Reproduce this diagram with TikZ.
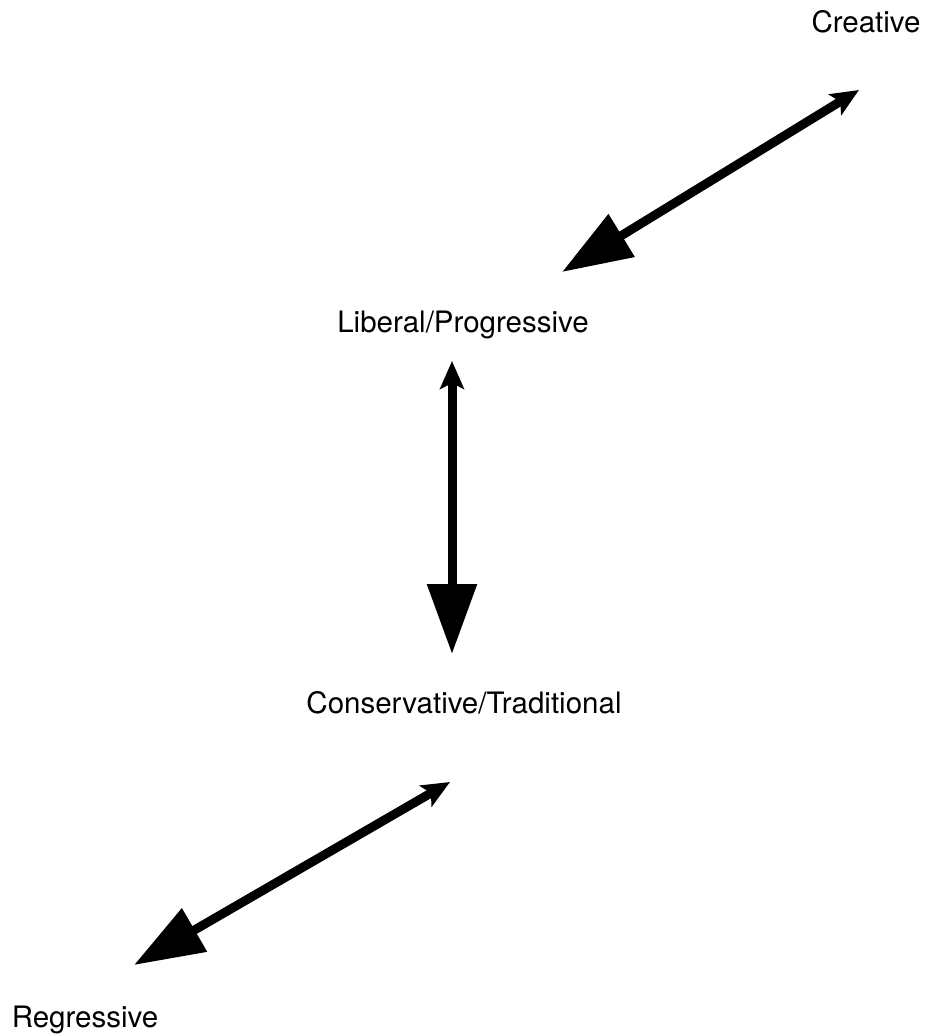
\documentclass[tikz,border=0pt]{standalone}
\usepackage{fontspec}
\setmainfont{TeX Gyre Heros}
\usetikzlibrary{arrows.meta}

\begin{document}
\begin{tikzpicture}[x=0.02cm, y=-0.02cm,
    axislabel/.style={font=\fontsize{16.8}{20}\selectfont, inner sep=0pt, anchor=base},
    twoway/.style={line width=0.18cm, {Triangle[length=1.4cm, width=0.96cm]}-{Stealth[length=0.56cm, width=0.48cm, inset=0.12cm]}}]
    \useasboundingbox (0,0) rectangle (930,1036);

    % Labels
    \node[axislabel] (creative) at (866, 32) {Creative};
    \node[axislabel] (liberal) at (463, 332) {Liberal/Progressive};
    \node[axislabel] (conservative) at (464, 713) {Conservative/Traditional};
    \node[axislabel] (regressive) at (85, 1027) {Regressive};

    % Arrow ends
    \coordinate (creativeend) at (859, 90);
    \coordinate (liberaltop) at (562, 272);
    \coordinate (liberalbottom) at (452, 361);
    \coordinate (conservativetop) at (452, 654);
    \coordinate (conservativebottom) at (450, 782);
    \coordinate (regressiveend) at (134, 965);

    % Arrows
    \draw[twoway] (liberaltop) -- (creativeend);
    \draw[twoway] (conservativetop) -- (liberalbottom);
    \draw[twoway] (regressiveend) -- (conservativebottom);
\end{tikzpicture}
\end{document}
